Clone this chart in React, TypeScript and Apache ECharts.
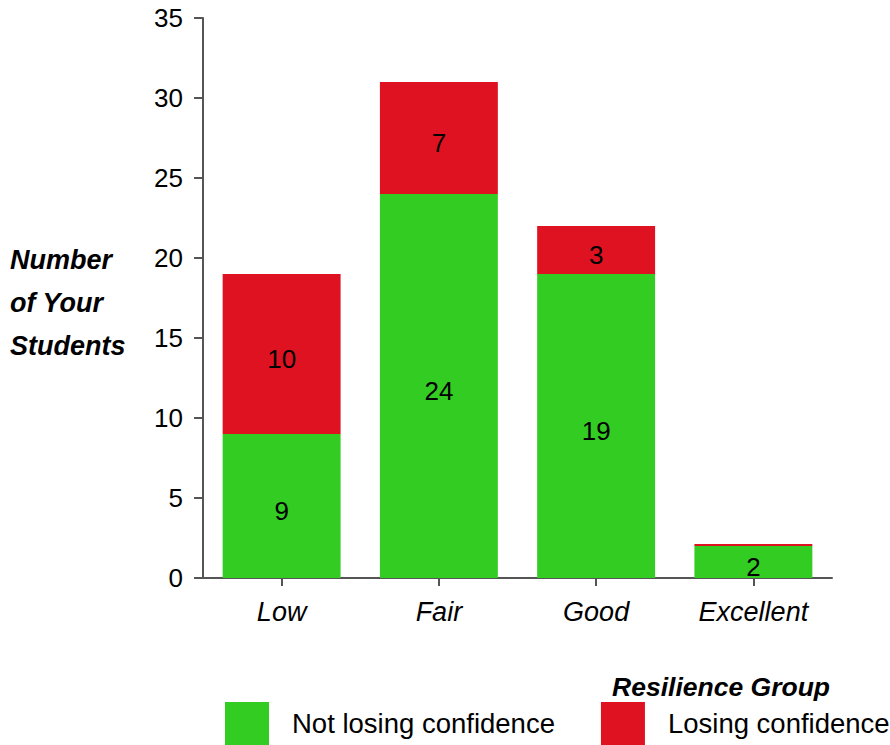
import React, { useEffect, useRef } from "react";
import * as echarts from "echarts";

const categories = ["Low", "Fair", "Good", "Excellent"];
const notLosing = [9, 24, 19, 2];
const losing = [10, 7, 3, 0];
const yTicks = { min: 0, max: 35, interval: 5 };

const FONT = "'Liberation Sans', Arial, Helvetica, sans-serif";
const FS = 26;

export default function App() {
  const ref = useRef<HTMLDivElement>(null);
  useEffect(() => {
    if (!ref.current) return;
    const chart = echarts.init(ref.current, null, { renderer: "svg" });
    const labelCfg = {
      show: true,
      position: "inside",
      color: "#000",
      fontSize: FS,
      fontFamily: FONT,
      offset: [0, 5],
      formatter: (p: any) => (p.value ? String(p.value) : ""),
    };
    chart.setOption({
      animation: false,
      backgroundColor: "#fff",
      textStyle: { fontFamily: FONT },
      grid: { left: 203, top: 18, right: 58, bottom: 167, containLabel: false },
      xAxis: {
        type: "category",
        data: categories,
        axisLine: { lineStyle: { color: "#555", width: 2 } },
        axisTick: { show: true, alignWithLabel: true, length: 8, lineStyle: { color: "#555", width: 2 } },
        axisLabel: { color: "#000", fontSize: 27, fontStyle: "italic", fontFamily: FONT, margin: 20 },
      },
      yAxis: {
        type: "value",
        min: yTicks.min,
        max: yTicks.max,
        interval: yTicks.interval,
        axisLine: { show: true, lineStyle: { color: "#555", width: 2 } },
        axisTick: { show: true, length: 9, lineStyle: { color: "#555", width: 2 } },
        splitLine: { show: false },
        axisLabel: { color: "#000", fontSize: FS, fontFamily: FONT, margin: 20 },
      },
      legend: {
        left: 225,
        top: 702,
        padding: 0,
        itemWidth: 44,
        itemHeight: 43,
        itemGap: 46,
        textStyle: { fontSize: 27.5, color: "#000", fontFamily: FONT, padding: [0, 0, 0, 18] },
        icon: "rect",
        data: ["Not losing confidence", "Losing confidence"],
      },
      graphic: [
        {
          type: "text",
          left: 10,
          top: 238,
          style: {
            text: "Number\nof Your\nStudents",
            font: `italic bold 27px ${FONT}`,
            lineHeight: 43,
            fill: "#000",
          },
        },
        {
          type: "text",
          right: 60,
          top: 673,
          style: {
            text: "Resilience Group",
            font: `italic bold 26.5px ${FONT}`,
            fill: "#000",
          },
        },
      ],
      series: [
        {
          name: "Not losing confidence",
          type: "bar",
          stack: "total",
          barWidth: "75%",
          data: notLosing,
          itemStyle: { color: "#33cc22" },
          label: labelCfg,
        },
        {
          name: "Losing confidence",
          type: "bar",
          stack: "total",
          barWidth: "75%",
          barMinHeight: 2,
          data: losing,
          itemStyle: { color: "#df1222" },
          label: labelCfg,
        },
      ],
    });
    return () => chart.dispose();
  }, []);
  return (
    <div
      ref={ref}
      style={{ position: "absolute", left: 0, top: 0, width: 890, height: 745 }}
    />
  );
}
